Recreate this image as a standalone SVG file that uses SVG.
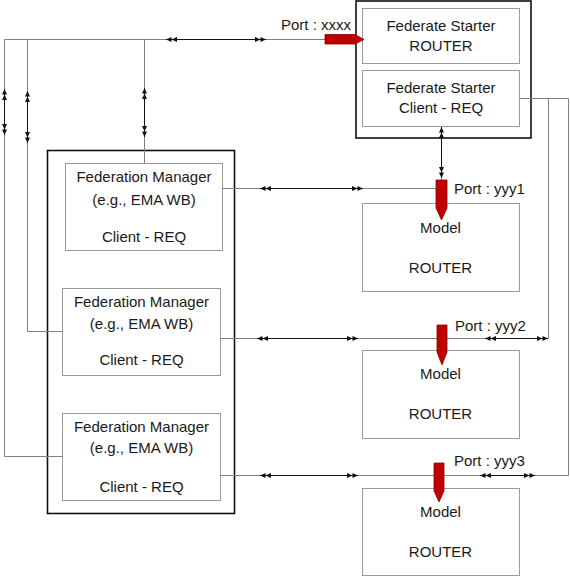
<svg xmlns="http://www.w3.org/2000/svg" width="570" height="576" viewBox="0 0 570 576">
<style>
text{font-family:"Liberation Sans",Arial,sans-serif;font-size:15px;fill:#1a1a1a}
.c{text-anchor:middle}
.box{fill:#fff;stroke:#9a9a9a;stroke-width:1}
.outer{fill:#fff;stroke:#111;stroke-width:1.6}
.ln{fill:none;stroke:#808080;stroke-width:1}
.ar{fill:none;stroke:#111;stroke-width:1;marker-start:url(#dbl);marker-end:url(#dbl)}
.port{fill:#c00000;stroke:#8a0000;stroke-width:0.8}
</style>
<defs>
<marker id="dbl" viewBox="0 0 11 5" refX="11" refY="2.5" markerWidth="11" markerHeight="5" markerUnits="userSpaceOnUse" orient="auto-start-reverse">
<path d="M0,0 L5.5,2.5 L0,5 Z M5.5,0 L11,2.5 L5.5,5 Z" fill="#111"/>
</marker>
</defs>
<rect width="570" height="576" fill="#fff"/>

<g id="federate-starter">
<rect class="outer" x="356" y="1" width="175" height="137" stroke-width="2"/>
<g id="fs-router">
<rect class="box" x="362.5" y="8.5" width="157" height="55"/>
<text class="c" x="441" y="31">Federate Starter</text>
<text class="c" x="441" y="51">ROUTER</text>
</g>
<g id="fs-client">
<rect class="box" x="362.5" y="70.5" width="157" height="56"/>
<text class="c" x="441" y="93">Federate Starter</text>
<text class="c" x="441" y="113">Client - REQ</text>
</g>
</g>

<g id="federation-managers">
<rect class="outer" x="47.5" y="150.5" width="187" height="363"/>
<g id="fm1">
<rect class="box" x="65.5" y="163.5" width="157" height="87"/>
<text class="c" x="144" y="182">Federation Manager</text>
<text class="c" x="144" y="205">(e.g., EMA WB)</text>
<text class="c" x="144" y="242">Client - REQ</text>
</g>
<g id="fm2">
<rect class="box" x="62.5" y="288.5" width="158" height="87"/>
<text class="c" x="141.5" y="307">Federation Manager</text>
<text class="c" x="141.5" y="329">(e.g., EMA WB)</text>
<text class="c" x="141.5" y="365">Client - REQ</text>
</g>
<g id="fm3">
<rect class="box" x="62.5" y="413.5" width="158" height="87"/>
<text class="c" x="141.5" y="432">Federation Manager</text>
<text class="c" x="141.5" y="453">(e.g., EMA WB)</text>
<text class="c" x="141.5" y="492">Client - REQ</text>
</g>
</g>

<g id="model1">
<rect class="box" x="362.5" y="203.5" width="157" height="88"/>
<text class="c" x="440.5" y="233">Model</text>
<text class="c" x="440.5" y="273">ROUTER</text>
</g>
<g id="model2">
<rect class="box" x="362.5" y="350.5" width="157" height="88"/>
<text class="c" x="440.5" y="379">Model</text>
<text class="c" x="440.5" y="419">ROUTER</text>
</g>
<g id="model3">
<rect class="box" x="362.5" y="488.5" width="157" height="87"/>
<text class="c" x="440.5" y="517">Model</text>
<text class="c" x="440.5" y="557">ROUTER</text>
</g>

<g id="connectors">
<!-- top bus -->
<polyline class="ln" points="325,39.5 4.5,39.5 4.5,456.5 62.5,456.5"/>
<polyline class="ln" points="27.5,39.5 27.5,331.5 62.5,331.5"/>
<line class="ln" x1="144.5" y1="39.5" x2="144.5" y2="163.5"/>
<line class="ar" x1="166" y1="39.5" x2="266" y2="39.5"/>
<line class="ar" x1="4.5" y1="89" x2="4.5" y2="135"/>
<line class="ar" x1="27.5" y1="91" x2="27.5" y2="143"/>
<line class="ar" x1="144.5" y1="88" x2="144.5" y2="137"/>
<!-- starter client to model1 -->
<line class="ln" x1="441.5" y1="126.5" x2="441.5" y2="180"/>
<line class="ar" x1="441.5" y1="127" x2="441.5" y2="178"/>
<!-- fm1 -->
<line class="ln" x1="222.5" y1="188.5" x2="436" y2="188.5"/>
<line class="ar" x1="260" y1="188.5" x2="363" y2="188.5"/>
<!-- fm2 -->
<line class="ln" x1="220.5" y1="338.5" x2="437" y2="338.5"/>
<line class="ar" x1="257" y1="338.5" x2="358" y2="338.5"/>
<polyline class="ln" points="447,338.5 548.5,338.5 548.5,98.5"/>
<line class="ar" x1="485" y1="338.5" x2="548" y2="338.5"/>
<!-- fm3 -->
<line class="ln" x1="220.5" y1="475.5" x2="434" y2="475.5"/>
<line class="ar" x1="260" y1="475.5" x2="358" y2="475.5"/>
<polyline class="ln" points="444,475.5 568.5,475.5 568.5,98.5 519.5,98.5"/>
<line class="ar" x1="480" y1="475.5" x2="535" y2="475.5"/>
</g>

<g id="ports">
<polygon class="port" points="325,34.5 355,34.5 364,39.5 355,44 325,44"/>
<text x="281" y="30">Port : xxxx</text>
<polygon class="port" points="436,180 447,180 447,208 441.5,220 436,208"/>
<text x="454" y="194">Port : yyy1</text>
<polygon class="port" points="437,325 447,325 447,352 442,365 437,352"/>
<text x="455" y="331">Port : yyy2</text>
<polygon class="port" points="434,463 444,463 444,491 439,502 434,491"/>
<text x="454" y="466">Port : yyy3</text>
</g>
</svg>
